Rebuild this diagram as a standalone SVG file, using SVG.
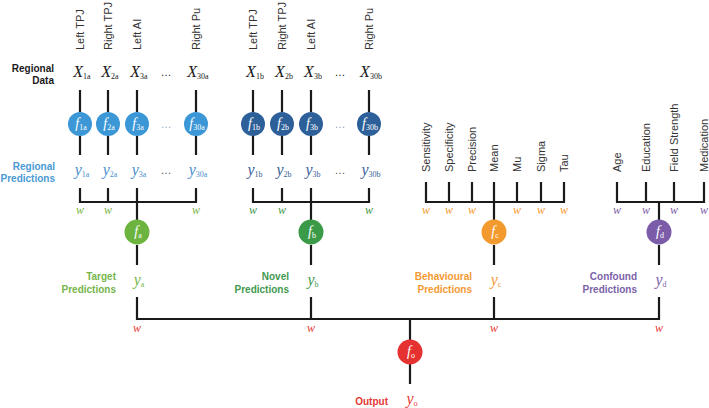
<svg xmlns="http://www.w3.org/2000/svg" width="709" height="408" viewBox="0 0 709 408">
<style>
.ln{stroke:#1a1a1a;stroke-width:2.2;fill:none;stroke-linecap:butt}
.rl{font-family:"Liberation Sans",Arial,sans-serif;font-size:11px;fill:#333}
.hd{font-family:"Liberation Sans",Arial,sans-serif;font-size:10px;font-weight:bold;text-anchor:end}
.mx{font-family:"Liberation Serif","Times New Roman",serif;font-style:italic;text-anchor:middle}
.sb{font-style:normal;font-size:8px}
.w{font-family:"Liberation Serif","Times New Roman",serif;font-style:italic;font-size:12px;text-anchor:middle}
.dt{font-family:"Liberation Sans",Arial,sans-serif;font-size:11px;text-anchor:middle}
.fl{fill:#fff;font-size:14px}
</style>
<rect width="709" height="408" fill="#fff"/>

<g id="connectors">
  <path class="ln" d="M80 90V112M108 90V112M137 90V112M196 90V112"/>
  <path class="ln" d="M80 136V155M108 136V155M137 136V155M196 136V155"/>
  <path class="ln" d="M80 188V202H196V188M108 188V202M137 188V220"/>
  <path class="ln" d="M137 245V265"/>
  <path class="ln" d="M253 90V112M282 90V112M311 90V112M369 90V112"/>
  <path class="ln" d="M253 136V155M282 136V155M311 136V155M369 136V155"/>
  <path class="ln" d="M253 188V202H369V188M282 188V202M311 188V220"/>
  <path class="ln" d="M311 245V265"/>
  <path class="ln" d="M426 182V202H564V182M449 182V202M472 182V202M517 182V202M541 182V202M494 182V220"/>
  <path class="ln" d="M494 245V265"/>
  <path class="ln" d="M617 182V202H704V182M646 182V202M674 182V202M659 202V220"/>
  <path class="ln" d="M659 245V265"/>
  <path class="ln" d="M137 297V319H659V297M311 297V319M494 297V319M410 319V340"/>
  <path class="ln" d="M410 364V384"/>
</g>

<g id="headers">
  <text class="hd" fill="#1a1a1a"><tspan x="54" y="72">Regional</tspan><tspan x="54" y="84">Data</tspan></text>
  <text class="hd" fill="#4a9ad4"><tspan x="55" y="170">Regional</tspan><tspan x="55" y="182">Predictions</tspan></text>
  <text class="hd" fill="#76b54a"><tspan x="116" y="280">Target</tspan><tspan x="116" y="293">Predictions</tspan></text>
  <text class="hd" fill="#3f9a4e"><tspan x="289" y="280">Novel</tspan><tspan x="289" y="293">Predictions</tspan></text>
  <text class="hd" fill="#f39a33"><tspan x="472" y="280">Behavioural</tspan><tspan x="472" y="293">Predictions</tspan></text>
  <text class="hd" fill="#7b62a8"><tspan x="637" y="280">Confound</tspan><tspan x="637" y="293">Predictions</tspan></text>
  <text class="hd" fill="#e53935" x="388" y="405">Output</text>
</g>

<g id="region-labels">
  <text class="rl" transform="translate(84,50) rotate(-90)">Left TPJ</text>
  <text class="rl" transform="translate(112,50) rotate(-90)">Right TPJ</text>
  <text class="rl" transform="translate(141,50) rotate(-90)">Left AI</text>
  <text class="rl" transform="translate(200,50) rotate(-90)">Right Pu</text>
  <text class="rl" transform="translate(257,50) rotate(-90)">Left TPJ</text>
  <text class="rl" transform="translate(286,50) rotate(-90)">Right TPJ</text>
  <text class="rl" transform="translate(315,50) rotate(-90)">Left AI</text>
  <text class="rl" transform="translate(373,50) rotate(-90)">Right Pu</text>
</g>
<g id="behaviour-labels">
  <text class="rl" transform="translate(430,172) rotate(-90)">Sensitivity</text>
  <text class="rl" transform="translate(453,172) rotate(-90)">Specificity</text>
  <text class="rl" transform="translate(476,172) rotate(-90)">Precision</text>
  <text class="rl" transform="translate(498,172) rotate(-90)">Mean</text>
  <text class="rl" transform="translate(521,172) rotate(-90)">Mu</text>
  <text class="rl" transform="translate(545,172) rotate(-90)">Sigma</text>
  <text class="rl" transform="translate(568,172) rotate(-90)">Tau</text>
</g>
<g id="confound-labels">
  <text class="rl" transform="translate(621,172) rotate(-90)">Age</text>
  <text class="rl" transform="translate(650,172) rotate(-90)">Education</text>
  <text class="rl" transform="translate(678,172) rotate(-90)">Field Strength</text>
  <text class="rl" transform="translate(708,172) rotate(-90)">Medication</text>
</g>

<g id="regional-data" fill="#1a1a1a">
  <text class="mx" font-size="16" x="82" y="77">X<tspan class="sb" dy="2">1a</tspan></text>
  <text class="mx" font-size="16" x="110" y="77">X<tspan class="sb" dy="2">2a</tspan></text>
  <text class="mx" font-size="16" x="139" y="77">X<tspan class="sb" dy="2">3a</tspan></text>
  <text class="dt" x="166" y="76">…</text>
  <text class="mx" font-size="16" x="198" y="77">X<tspan class="sb" dy="2">30a</tspan></text>
  <text class="mx" font-size="16" x="255" y="77">X<tspan class="sb" dy="2">1b</tspan></text>
  <text class="mx" font-size="16" x="284" y="77">X<tspan class="sb" dy="2">2b</tspan></text>
  <text class="mx" font-size="16" x="313" y="77">X<tspan class="sb" dy="2">3b</tspan></text>
  <text class="dt" x="340" y="76">…</text>
  <text class="mx" font-size="16" x="371" y="77">X<tspan class="sb" dy="2">30b</tspan></text>
</g>

<g id="f1a"><circle cx="80" cy="124" r="12" fill="#3b97d6"/><text class="mx fl" x="81" y="128">f<tspan class="sb" dy="2">1a</tspan></text></g>
<g id="f2a"><circle cx="108" cy="124" r="12" fill="#3b97d6"/><text class="mx fl" x="109" y="128">f<tspan class="sb" dy="2">2a</tspan></text></g>
<g id="f3a"><circle cx="137" cy="124" r="12" fill="#3b97d6"/><text class="mx fl" x="138" y="128">f<tspan class="sb" dy="2">3a</tspan></text></g>
<text class="dt" x="166" y="128" fill="#8aaccc">…</text>
<g id="f30a"><circle cx="196" cy="124" r="12" fill="#3b97d6"/><text class="mx fl" x="197" y="128">f<tspan class="sb" dy="2">30a</tspan></text></g>
<g id="f1b"><circle cx="253" cy="124" r="12" fill="#2d5f98"/><text class="mx fl" x="254" y="128">f<tspan class="sb" dy="2">1b</tspan></text></g>
<g id="f2b"><circle cx="282" cy="124" r="12" fill="#2d5f98"/><text class="mx fl" x="283" y="128">f<tspan class="sb" dy="2">2b</tspan></text></g>
<g id="f3b"><circle cx="311" cy="124" r="12" fill="#2d5f98"/><text class="mx fl" x="312" y="128">f<tspan class="sb" dy="2">3b</tspan></text></g>
<text class="dt" x="340" y="128" fill="#8a9cb8">…</text>
<g id="f30b"><circle cx="369" cy="124" r="12" fill="#2d5f98"/><text class="mx fl" x="370" y="128">f<tspan class="sb" dy="2">30b</tspan></text></g>

<g id="regional-predictions">
  <g fill="#4a90cc">
    <text class="mx" font-size="16" x="82" y="175">y<tspan class="sb" dy="2">1a</tspan></text>
    <text class="mx" font-size="16" x="110" y="175">y<tspan class="sb" dy="2">2a</tspan></text>
    <text class="mx" font-size="16" x="139" y="175">y<tspan class="sb" dy="2">3a</tspan></text>
    <text class="mx" font-size="16" x="198" y="175">y<tspan class="sb" dy="2">30a</tspan></text>
  </g>
  <text class="dt" x="166" y="174" fill="#555">…</text>
  <g fill="#3a5f98">
    <text class="mx" font-size="16" x="255" y="175">y<tspan class="sb" dy="2">1b</tspan></text>
    <text class="mx" font-size="16" x="284" y="175">y<tspan class="sb" dy="2">2b</tspan></text>
    <text class="mx" font-size="16" x="313" y="175">y<tspan class="sb" dy="2">3b</tspan></text>
    <text class="mx" font-size="16" x="371" y="175">y<tspan class="sb" dy="2">30b</tspan></text>
  </g>
  <text class="dt" x="340" y="174" fill="#555">…</text>
</g>

<g id="weights">
  <g fill="#7ab648"><text class="w" x="80" y="214">w</text><text class="w" x="108" y="214">w</text><text class="w" x="196" y="214">w</text></g>
  <g fill="#3f9a4e"><text class="w" x="253" y="214">w</text><text class="w" x="282" y="214">w</text><text class="w" x="369" y="214">w</text></g>
  <g fill="#f39a33"><text class="w" x="426" y="214">w</text><text class="w" x="449" y="214">w</text><text class="w" x="472" y="214">w</text><text class="w" x="517" y="214">w</text><text class="w" x="541" y="214">w</text><text class="w" x="564" y="214">w</text></g>
  <g fill="#7b62a8"><text class="w" x="617" y="214">w</text><text class="w" x="646" y="214">w</text><text class="w" x="674" y="214">w</text><text class="w" x="704" y="214">w</text></g>
  <g fill="#e53935"><text class="w" x="137" y="332">w</text><text class="w" x="311" y="332">w</text><text class="w" x="494" y="332">w</text><text class="w" x="659" y="332">w</text></g>
</g>

<g id="fa"><circle cx="137" cy="232" r="12.5" fill="#6db33f"/><text class="mx fl" x="138" y="236">f<tspan class="sb" dy="2">a</tspan></text></g>
<g id="fb"><circle cx="311" cy="232" r="12.5" fill="#3a9a48"/><text class="mx fl" x="312" y="236">f<tspan class="sb" dy="2">b</tspan></text></g>
<g id="fc"><circle cx="494" cy="232" r="12.5" fill="#f29a2e"/><text class="mx fl" x="495" y="236">f<tspan class="sb" dy="2">c</tspan></text></g>
<g id="fd"><circle cx="659" cy="232" r="12.5" fill="#7a5ca8"/><text class="mx fl" x="660" y="236">f<tspan class="sb" dy="2">d</tspan></text></g>
<g id="fo"><circle cx="410" cy="352" r="12.5" fill="#e5312f"/><text class="mx fl" x="411" y="356">f<tspan class="sb" dy="2">o</tspan></text></g>

<g id="ya"><text class="mx" font-size="16" fill="#76b54a" x="139" y="285">y<tspan class="sb" dy="2">a</tspan></text></g>
<g id="yb"><text class="mx" font-size="16" fill="#3f9a4e" x="313" y="285">y<tspan class="sb" dy="2">b</tspan></text></g>
<g id="yc"><text class="mx" font-size="16" fill="#f39a33" x="496" y="285">y<tspan class="sb" dy="2">c</tspan></text></g>
<g id="yd"><text class="mx" font-size="16" fill="#7b62a8" x="661" y="285">y<tspan class="sb" dy="2">d</tspan></text></g>
<g id="yo"><text class="mx" font-size="16" fill="#e53935" x="412" y="404">y<tspan class="sb" dy="2">o</tspan></text></g>
</svg>
